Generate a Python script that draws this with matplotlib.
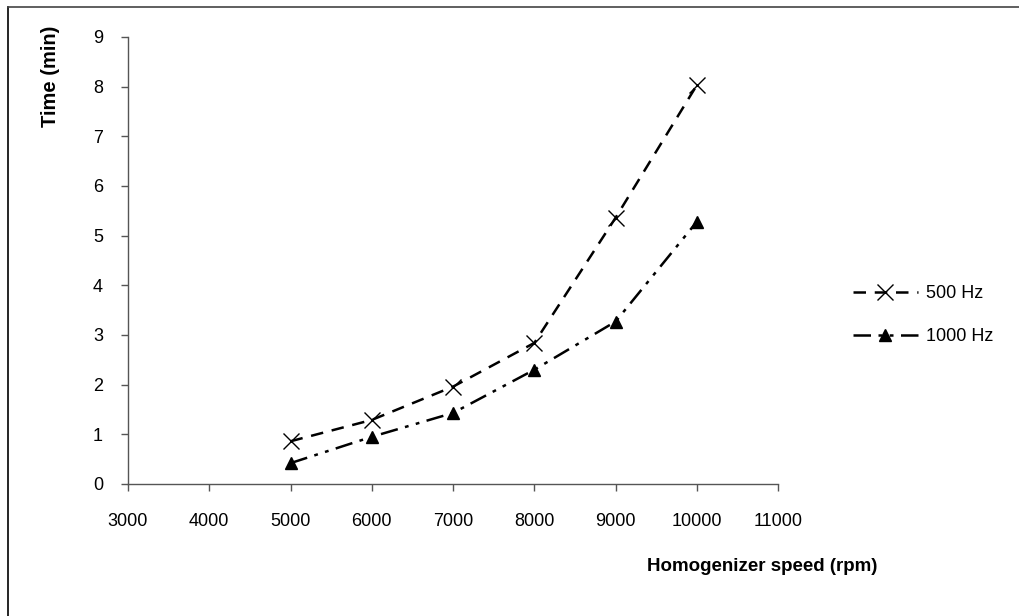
import matplotlib.pyplot as plt
from matplotlib.lines import Line2D

plt.rcParams['font.family'] = ['Liberation Sans', 'DejaVu Sans']

# homogenizer speed (rpm)
speed = [5000, 6000, 7000, 8000, 9000, 10000]
# time (min) at each frequency
time_500 = [0.86, 1.29, 1.96, 2.84, 5.36, 8.03]
time_1000 = [0.42, 0.95, 1.43, 2.30, 3.27, 5.28]

fig = plt.figure(figsize=(10.19, 6.16), dpi=100)
ax = fig.add_axes([0.1256, 0.2143, 0.638, 0.7257])

ax.plot(speed, time_500, color='black', lw=1.8, ls=(0, (5, 3.5)),
        marker='x', ms=11, mew=1.0, label='500 Hz')
ax.plot(speed, time_1000, color='black', lw=1.8, ls=(0, (7, 3, 1.5, 3, 1.5, 3)),
        marker='^', ms=8, label='1000 Hz')

ax.set_xlim(3000, 11000)
ax.set_ylim(0, 9)
ax.set_xticks(range(3000, 11001, 1000))
ax.set_yticks(range(0, 10))

for s in ['top', 'right']:
    ax.spines[s].set_visible(False)
for s in ['left', 'bottom']:
    ax.spines[s].set_color('#555555')
    ax.spines[s].set_linewidth(1.0)
ax.tick_params(direction='out', length=5, width=1, color='#555555', labelsize=13)
ax.tick_params(axis='x', pad=16)
ax.tick_params(axis='y', pad=13)

ax.set_xlabel('Homogenizer speed (rpm)', fontsize=13.5, fontweight='bold')
ax.set_ylabel('Time (min)', fontsize=14.5, fontweight='bold')
ax.xaxis.set_label_coords(0.975, -0.165)
ax.yaxis.set_label_coords(-0.105, 0.913)

leg = fig.legend(loc='center left', bbox_to_anchor=(0.837, 0.488), frameon=False,
                 fontsize=13, handlelength=3.6, handletextpad=0.45, labelspacing=1.45,
                 borderpad=0, borderaxespad=0)

# scanned page frame (top and left edges)
fig.add_artist(Line2D([8 / 1019, 8 / 1019], [0, 1 - 7 / 616], color='black', lw=1.2))
fig.add_artist(Line2D([8 / 1019, 1], [1 - 7 / 616, 1 - 7 / 616], color='#444444', lw=1.2))

fig.savefig('out.png', dpi=100)
